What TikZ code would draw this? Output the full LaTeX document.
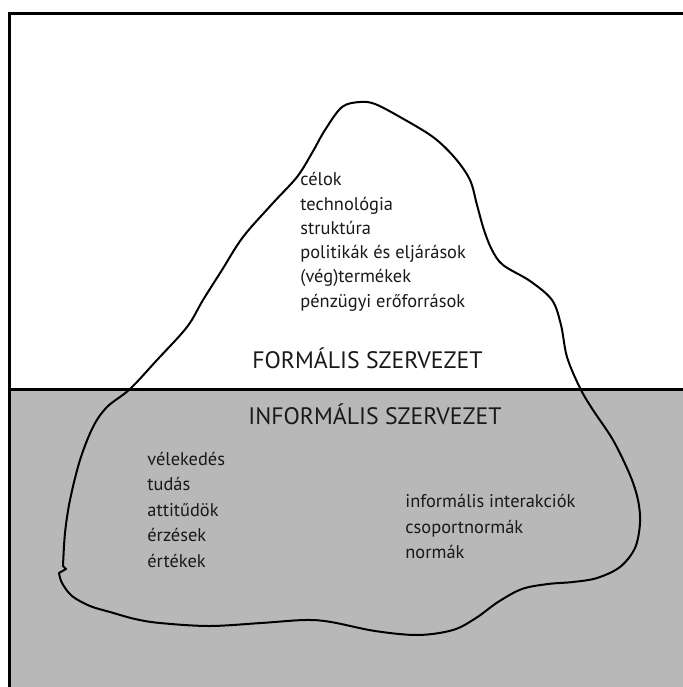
\documentclass[tikz,border=0pt]{standalone}
\usepackage{fontspec}
\setmainfont{PT Sans}
\begin{document}
\begin{tikzpicture}[x=0.5pt,y=-0.5pt,
  rule/.style={line width=1.5pt,draw=black},
  outline/.style={line width=1pt,draw=black,line join=round},
  item/.style={anchor=base west,inner sep=0pt,text=black!90,font=\fontsize{9.2}{11}\selectfont},
  heading/.style={anchor=base,inner sep=0pt,text=black!90,font=\fontsize{11.9}{14}\selectfont}]
\definecolor{water}{RGB}{185,184,185}
\useasboundingbox (0,0) rectangle (683,687);
% sea below the waterline
\fill[water] (9,389) rectangle (683,687);
% frame and waterline
\draw[rule] (9,687) -- (9,13) -- (683,13);
\draw[rule] (9,389) -- (683,389);
% iceberg
\draw[outline] plot[smooth,tension=0.55] coordinates {
  (59,573) (62,583) (72,596) (90,606) (110,612) (135,619) (160,623) (209,626)
  (261,623) (305,620) (331,622) (375,631) (418,635) (453,630) (476,618)
  (498,602) (522,589) (548,584) (573,582) (597,578) (620,567) (635,548)
  (640,523) (638,500) (630,475) (613,440) (593,410) (580,388) (567,357)
  (561,325) (552,300) (530,281) (503,265) (492,250) (484,230) (477,205)
  (470,180) (455,158) (433,137) (400,117) (375,104) (360,102) (342,107)
  (325,130) (312,153) (297,177) (273,203) (243,237) (222,270) (203,300)
  (187,327) (157,360) (130,389) (107,407) (93,427) (80,460) (70,500)
  (65,533) (63,566)} -- (66,569) -- cycle;
% formal part
\node[item] (f1) at (300,185) {célok};
\node[item] (f2) at (300,210) {technológia};
\node[item] (f3) at (300,234) {struktúra};
\node[item] (f4) at (300,258) {politikák és eljárások};
\node[item] (f5) at (300,282) {(vég)termékek};
\node[item] (f6) at (300,307) {pénzügyi erőforrások};
\node[heading] (formal) at (367.5,368) {FORMÁLIS SZERVEZET};
% informal part
\node[heading] (informal) at (375,424) {INFORMÁLIS SZERVEZET};
\node[item] (a1) at (147,465) {vélekedés};
\node[item] (a2) at (147,490) {tudás};
\node[item] (a3) at (147,516) {attitűdök};
\node[item] (a4) at (147,541) {érzések};
\node[item] (a5) at (147,567) {értékek};
\node[item] (b1) at (405,507) {informális interakciók};
\node[item] (b2) at (405,533) {csoportnormák};
\node[item] (b3) at (405,558) {normák};
\end{tikzpicture}
\end{document}
